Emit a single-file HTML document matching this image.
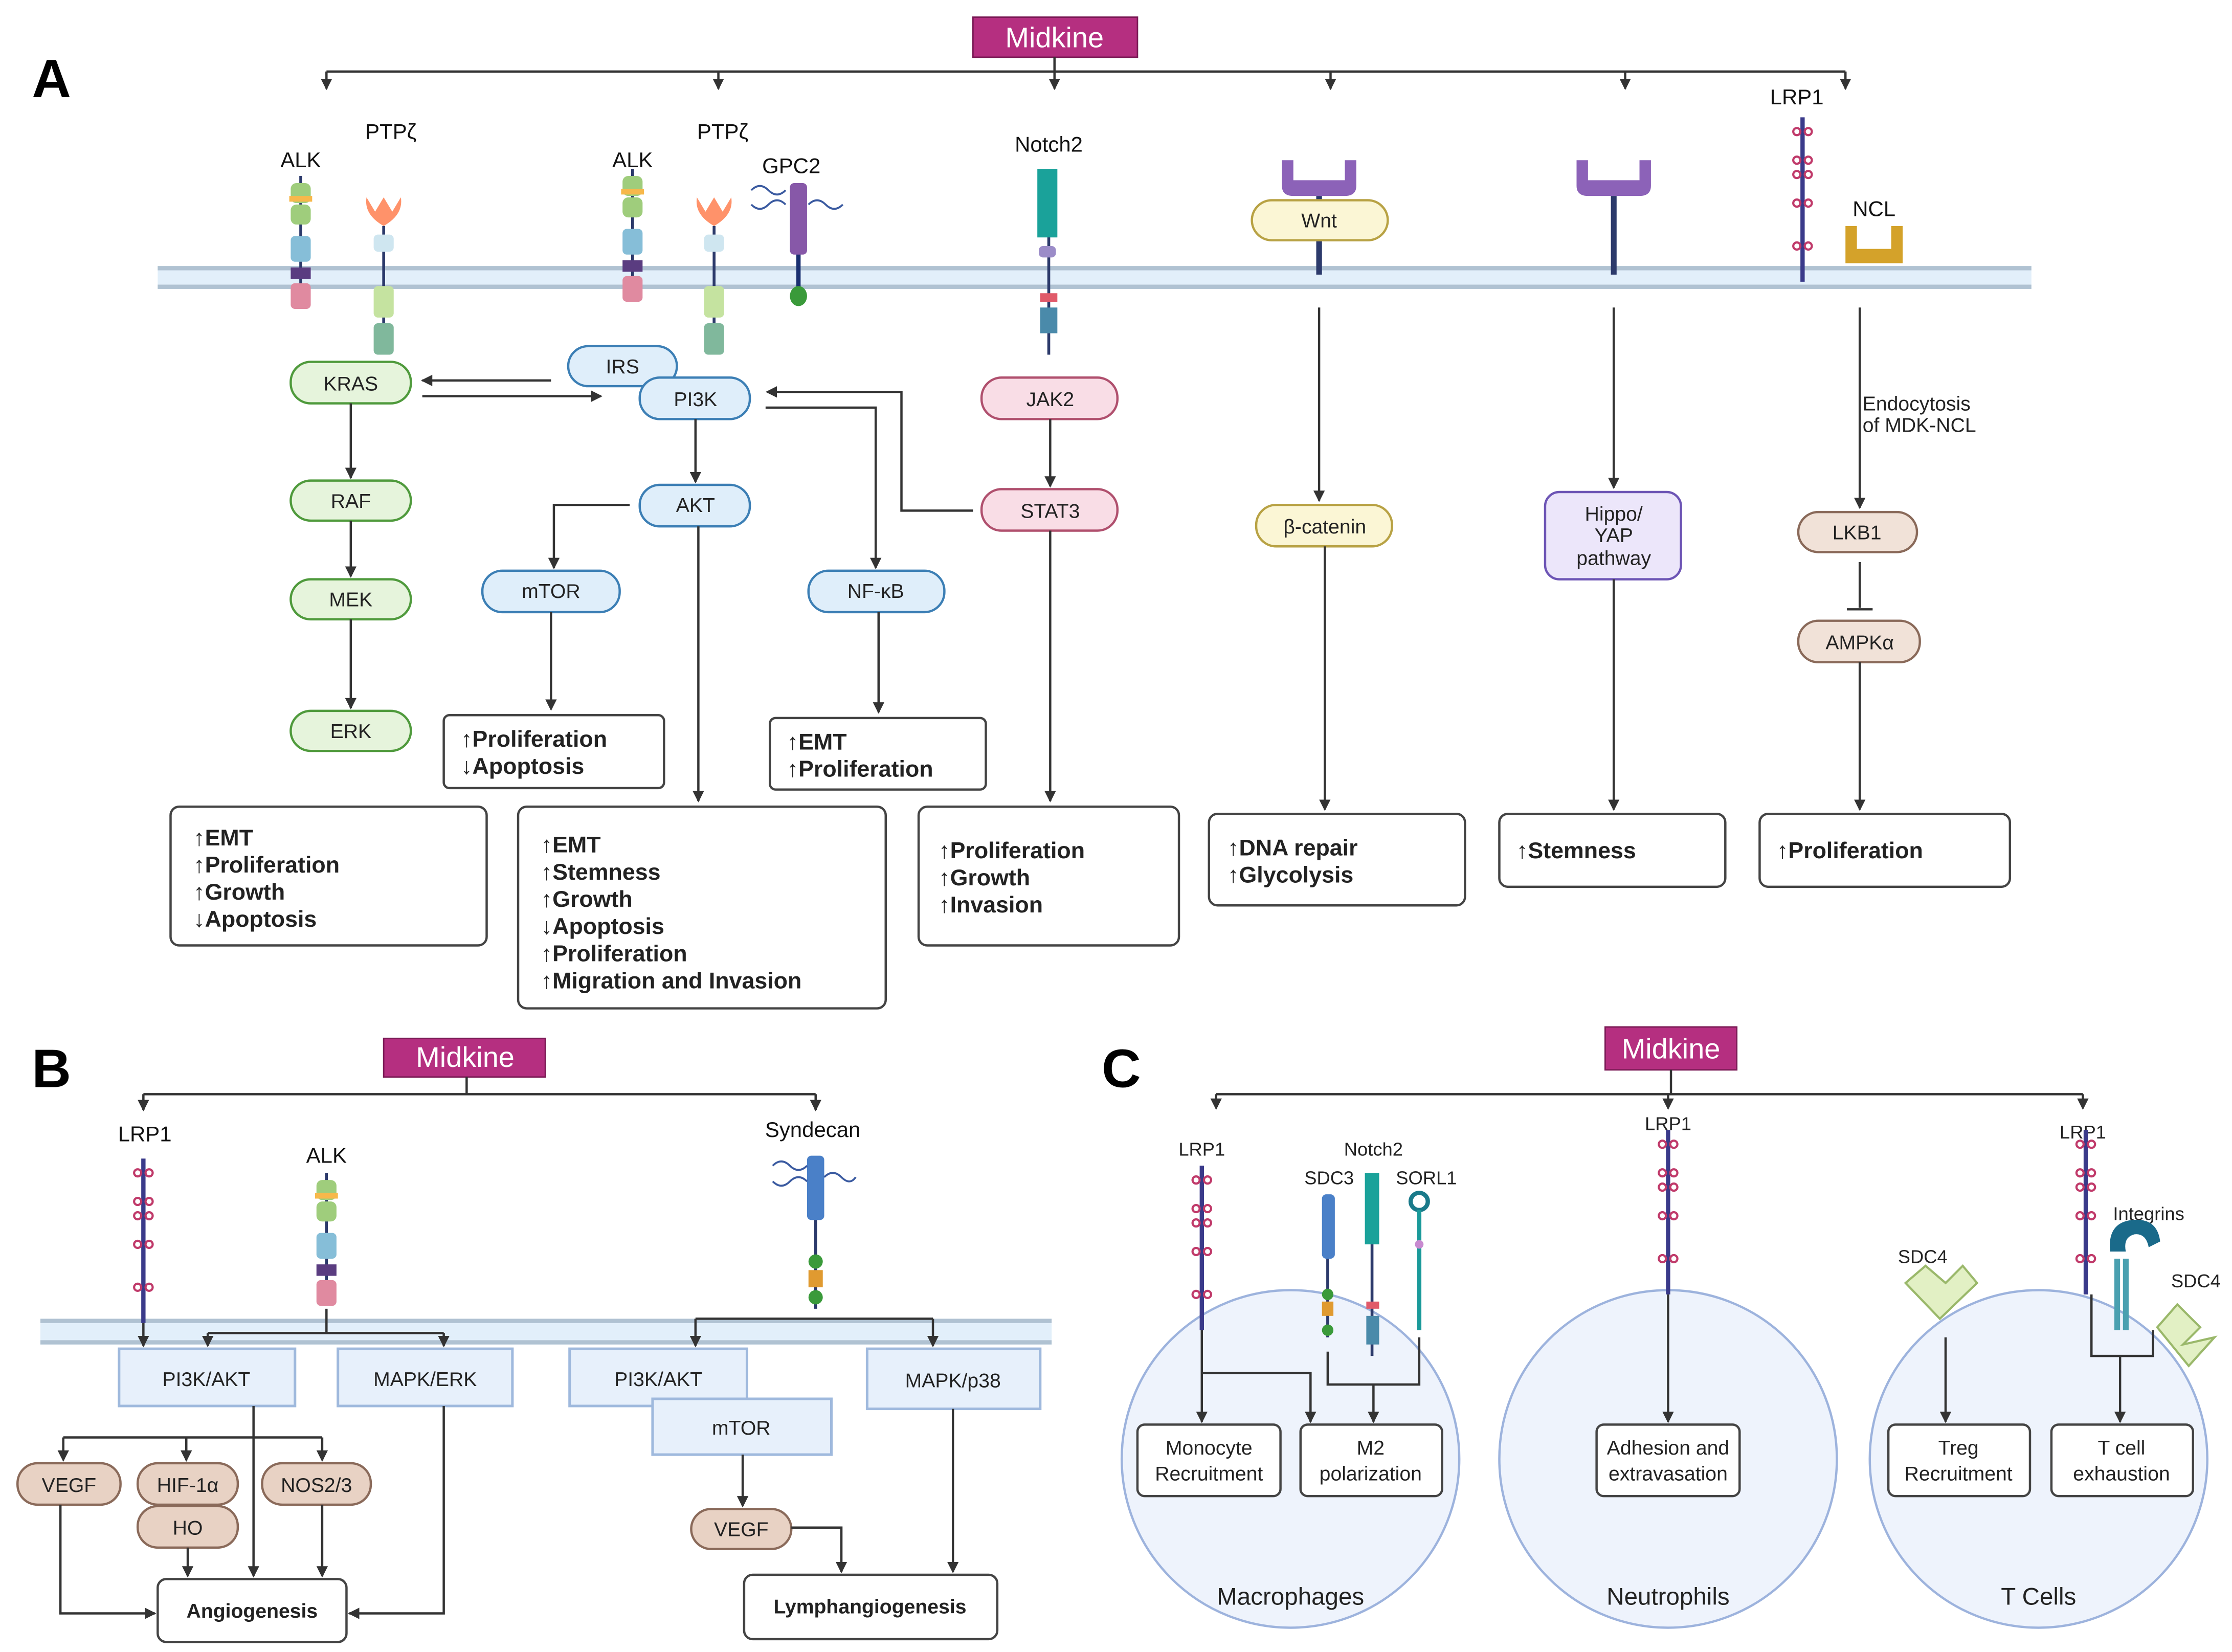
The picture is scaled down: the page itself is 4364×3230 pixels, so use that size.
<!DOCTYPE html>
<html><head><meta charset="utf-8"><style>
html,body{margin:0;padding:0;background:#fff;}
svg{display:block;}
text{font-family:"Liberation Sans",sans-serif;}
.n{font-size:14px;fill:#222;text-anchor:middle;}
.o{font-size:16px;font-weight:bold;fill:#222;}
.l{font-size:15px;fill:#111;text-anchor:middle;}
.ln{stroke:#333;stroke-width:1.6;fill:none;}
.box{fill:#fff;stroke:#444;stroke-width:1.6;}
</style></head><body>
<svg width="4364" height="3230" viewBox="0 0 1560 1155" xmlns="http://www.w3.org/2000/svg">
<defs>
<marker id="a" markerWidth="8" markerHeight="8" refX="7" refY="4" orient="auto" markerUnits="userSpaceOnUse"><path d="M0,0 L8,4 L0,8 z" fill="#333"/></marker>
<g id="alk"><line x1="0" y1="-60" x2="0" y2="30" stroke="#2c3a6b" stroke-width="2"/><rect x="-7" y="-55" width="14" height="14" rx="4" fill="#9fcd7c"/><rect x="-8" y="-46" width="16" height="4" fill="#f7b84b"/><rect x="-7" y="-40" width="14" height="14" rx="4" fill="#9fcd7c"/><rect x="-7" y="-18" width="14" height="18" rx="3" fill="#86bed8"/><rect x="-7" y="4" width="14" height="8" fill="#5a3c80"/><rect x="-7" y="15" width="14" height="18" rx="3" fill="#e08aa0"/></g>
<g id="ptp"><path d="M-12,-50 Q-14,-38 0,-30 Q14,-38 12,-50 L6,-40 L0,-50 L-6,-40 z" fill="#ff926a"/><line x1="0" y1="-30" x2="0" y2="50" stroke="#2c3a6b" stroke-width="2"/><rect x="-7" y="-24" width="14" height="12" rx="3" fill="#cfe6f0"/><rect x="-7" y="12" width="14" height="22" rx="3" fill="#c5e3a0"/><rect x="-7" y="38" width="14" height="22" rx="3" fill="#80b89c"/></g>
<g id="lrp"><line x1="0" y1="-110" x2="0" y2="5" stroke="#3a3a8a" stroke-width="3"/><g fill="none" stroke="#c03a6a" stroke-width="1.5"><circle cx="-4" cy="-100" r="2.5"/><circle cx="4" cy="-100" r="2.5"/><circle cx="-4" cy="-80" r="2.5"/><circle cx="4" cy="-80" r="2.5"/><circle cx="-4" cy="-70" r="2.5"/><circle cx="4" cy="-70" r="2.5"/><circle cx="-4" cy="-50" r="2.5"/><circle cx="4" cy="-50" r="2.5"/><circle cx="-4" cy="-20" r="2.5"/><circle cx="4" cy="-20" r="2.5"/></g></g>
<g id="wr"><path d="M-26,-80 L-26,-62 Q-26,-55 -18,-55 L18,-55 Q26,-55 26,-62 L26,-80 L18,-80 L18,-66 L-18,-66 L-18,-80 z" fill="#8c62b8"/><rect x="-2" y="-55" width="4" height="55" fill="#2c3a6b"/></g>
</defs>

<!-- ===== A ===== -->
<text x="22" y="68" font-size="38" font-weight="bold" fill="#000">A</text>
<rect x="680" y="12" width="115" height="28" fill="#b52f80" stroke="#7a1a55"/>
<text x="737" y="33" font-size="20" fill="#fff" text-anchor="middle">Midkine</text>
<line class="ln" x1="737" y1="40" x2="737" y2="50"/>
<line class="ln" x1="228" y1="50" x2="1290" y2="50"/>
<g class="ln" marker-end="url(#a)"><line x1="228" y1="50" x2="228" y2="62"/><line x1="502" y1="50" x2="502" y2="62"/><line x1="737" y1="50" x2="737" y2="62"/><line x1="930" y1="50" x2="930" y2="62"/><line x1="1136" y1="50" x2="1136" y2="62"/><line x1="1290" y1="50" x2="1290" y2="62"/></g>

<rect x="110" y="186" width="1310" height="16" fill="#e2effa"/>
<rect x="110" y="186" width="1310" height="3" fill="#b0c2d2"/><rect x="110" y="199" width="1310" height="3" fill="#b0c2d2"/>

<text class="l" x="210" y="117">ALK</text><text class="l" x="273" y="97">PTPζ</text>
<text class="l" x="442" y="117">ALK</text><text class="l" x="505" y="97">PTPζ</text>
<text class="l" x="553" y="121">GPC2</text><text class="l" x="733" y="106">Notch2</text>
<text class="l" x="1256" y="73">LRP1</text><text class="l" x="1310" y="151">NCL</text>
<use href="#alk" x="210" y="183"/><use href="#ptp" x="268" y="188"/>
<use href="#alk" x="442" y="178"/><use href="#ptp" x="499" y="188"/>
<line x1="558" y1="130" x2="558" y2="205" stroke="#1a2f70" stroke-width="3"/><rect x="552" y="128" width="12" height="50" rx="3" fill="#8758a8"/><ellipse cx="558" cy="207" rx="6" ry="7" fill="#3a9a3a"/>
<path d="M525,133 q6,-6 12,0 t12,0 M525,143 q6,6 12,0 t12,0 M565,143 q6,-6 12,0 t12,0" stroke="#3a5aa0" fill="none" stroke-width="1.3"/>
<line x1="733" y1="165" x2="733" y2="248" stroke="#2c3a6b" stroke-width="2"/><rect x="725" y="118" width="14" height="48" fill="#1aa29a"/><rect x="726" y="172" width="12" height="8" rx="3" fill="#9b8cc8"/><rect x="727" y="205" width="12" height="6" fill="#e05a6a"/><rect x="727" y="215" width="12" height="18" fill="#4a8aaa"/>
<use href="#wr" x="922" y="192"/>
<rect x="875" y="140" width="95" height="28" rx="14" fill="#fbf6d5" stroke="#b8a244" stroke-width="1.6"/><text class="n" x="922" y="159">Wnt</text>
<use href="#wr" x="1128" y="192"/>
<use href="#lrp" x="1260" y="192"/>
<path d="M1290,158 L1298,158 L1298,174 L1322,174 L1322,158 L1330,158 L1330,184 L1290,184 z" fill="#d4a22a"/>

<!-- A nodes -->
<g stroke-width="1.6">
<g fill="#e6f4dc" stroke="#4f9a3c"><rect x="203" y="253" width="84" height="29" rx="14"/><rect x="203" y="336" width="84" height="28" rx="14"/><rect x="203" y="405" width="84" height="28" rx="14"/><rect x="203" y="497" width="84" height="28" rx="14"/></g>
<g fill="#dfeefa" stroke="#3c7fb5"><rect x="397" y="242" width="76" height="28" rx="14"/><rect x="447" y="264" width="77" height="29" rx="14"/><rect x="447" y="339" width="77" height="29" rx="14"/><rect x="337" y="399" width="96" height="29" rx="14"/><rect x="565" y="399" width="95" height="29" rx="14"/></g>
<g fill="#f9dde6" stroke="#b0506e"><rect x="686" y="264" width="95" height="29" rx="14"/><rect x="686" y="342" width="95" height="29" rx="14"/></g>
<rect x="878" y="353" width="95" height="29" rx="14" fill="#fbf6d5" stroke="#b8a244"/>
<rect x="1080" y="344" width="95" height="61" rx="10" fill="#ece6fa" stroke="#6d55b5"/>
<g fill="#f1e2d8" stroke="#8a6a5a"><rect x="1257" y="358" width="83" height="28" rx="14"/><rect x="1257" y="434" width="85" height="29" rx="14"/></g>
</g>
<g class="n">
<text x="245" y="273">KRAS</text><text x="245" y="355">RAF</text><text x="245" y="424">MEK</text><text x="245" y="516">ERK</text>
<text x="435" y="261">IRS</text><text x="486" y="284">PI3K</text><text x="486" y="358">AKT</text><text x="385" y="418">mTOR</text><text x="612" y="418">NF-κB</text>
<text x="734" y="284">JAK2</text><text x="734" y="362">STAT3</text><text x="926" y="373">β-catenin</text>
<text x="1128" y="364">Hippo/</text><text x="1128" y="379">YAP</text><text x="1128" y="395">pathway</text>
<text x="1298" y="377">LKB1</text><text x="1300" y="454">AMPKα</text>
</g>
<text x="1302" y="287" font-size="14" fill="#222">Endocytosis</text><text x="1302" y="302" font-size="14" fill="#222">of MDK-NCL</text>

<g class="ln" marker-end="url(#a)">
<line x1="245" y1="282" x2="245" y2="334"/><line x1="245" y1="364" x2="245" y2="403"/><line x1="245" y1="433" x2="245" y2="495"/>
<line x1="385" y1="266" x2="295" y2="266"/><line x1="295" y1="277" x2="420" y2="277"/>
<line x1="486" y1="293" x2="486" y2="337"/>
<polyline points="440,353 387,353 387,397"/>
<line x1="385" y1="428" x2="385" y2="496"/>
<line x1="488" y1="368" x2="488" y2="560"/>
<polyline points="680,357 630,357 630,274 536,274"/>
<polyline points="535,285 612,285 612,397"/>
<line x1="614" y1="428" x2="614" y2="498"/>
<line x1="734" y1="293" x2="734" y2="340"/><line x1="734" y1="371" x2="734" y2="560"/>
<line x1="922" y1="215" x2="922" y2="350"/><line x1="926" y1="382" x2="926" y2="566"/>
<line x1="1128" y1="215" x2="1128" y2="341"/><line x1="1128" y1="405" x2="1128" y2="566"/>
<line x1="1300" y1="215" x2="1300" y2="355"/><line x1="1300" y1="463" x2="1300" y2="566"/>
</g>
<line class="ln" x1="1300" y1="393" x2="1300" y2="425"/><line class="ln" x1="1291" y1="426" x2="1309" y2="426"/>

<!-- A outcome boxes -->
<rect class="box" x="310" y="500" width="154" height="51" rx="4"/>
<text class="o" x="322" y="522">↑Proliferation</text><text class="o" x="322" y="541">↓Apoptosis</text>
<rect class="box" x="538" y="502" width="151" height="50" rx="4"/>
<text class="o" x="550" y="524">↑EMT</text><text class="o" x="550" y="543">↑Proliferation</text>
<rect class="box" x="119" y="564" width="221" height="97" rx="6"/>
<text class="o" x="135" y="591">↑EMT</text><text class="o" x="135" y="610">↑Proliferation</text><text class="o" x="135" y="629">↑Growth</text><text class="o" x="135" y="648">↓Apoptosis</text>
<rect class="box" x="362" y="564" width="257" height="141" rx="6"/>
<text class="o" x="378" y="596">↑EMT</text><text class="o" x="378" y="615">↑Stemness</text><text class="o" x="378" y="634">↑Growth</text><text class="o" x="378" y="653">↓Apoptosis</text><text class="o" x="378" y="672">↑Proliferation</text><text class="o" x="378" y="691">↑Migration and Invasion</text>
<rect class="box" x="642" y="564" width="182" height="97" rx="6"/>
<text class="o" x="656" y="600">↑Proliferation</text><text class="o" x="656" y="619">↑Growth</text><text class="o" x="656" y="638">↑Invasion</text>
<rect class="box" x="845" y="569" width="179" height="64" rx="6"/>
<text class="o" x="858" y="598">↑DNA repair</text><text class="o" x="858" y="617">↑Glycolysis</text>
<rect class="box" x="1048" y="569" width="158" height="51" rx="6"/><text class="o" x="1060" y="600">↑Stemness</text>
<rect class="box" x="1230" y="569" width="175" height="51" rx="6"/><text class="o" x="1242" y="600" font-size="17">↑Proliferation</text>

<!-- ===== B ===== -->
<text x="22" y="760" font-size="38" font-weight="bold" fill="#000">B</text>
<rect x="268" y="726" width="113" height="27" fill="#b52f80" stroke="#7a1a55"/>
<text x="325" y="746" font-size="20" fill="#fff" text-anchor="middle">Midkine</text>
<line class="ln" x1="326" y1="753" x2="326" y2="765"/><line class="ln" x1="100" y1="765" x2="570" y2="765"/>
<g class="ln" marker-end="url(#a)"><line x1="100" y1="765" x2="100" y2="776"/><line x1="570" y1="765" x2="570" y2="776"/></g>
<text class="l" x="101" y="798" font-size="14">LRP1</text><text class="l" x="228" y="813" font-size="14">ALK</text><text class="l" x="568" y="795" font-size="14">Syndecan</text>
<rect x="28" y="922" width="707" height="18" fill="#e2effa"/><rect x="28" y="922" width="707" height="3" fill="#b0c2d2"/><rect x="28" y="937" width="707" height="3" fill="#b0c2d2"/>
<use href="#lrp" x="100" y="920"/><use href="#alk" x="228" y="880"/>
<rect x="564" y="808" width="12" height="45" rx="3" fill="#4a80c8"/><line x1="570" y1="853" x2="570" y2="915" stroke="#2c3a6b" stroke-width="2"/><circle cx="570" cy="882" r="5" fill="#3a9a3a"/><rect x="565" y="888" width="10" height="12" fill="#e09a30"/><circle cx="570" cy="907" r="5" fill="#3a9a3a"/>
<path d="M540,815 q6,-6 12,0 t12,0 M540,826 q6,6 12,0 t12,0 M576,823 q6,-6 12,0 t10,0" stroke="#3a5aa0" fill="none" stroke-width="1.3"/>
<g fill="#e7f0fb" stroke="#9fb9dd" stroke-width="1.8">
<rect x="83" y="943" width="123" height="40"/><rect x="236" y="943" width="122" height="40"/><rect x="398" y="943" width="124" height="40"/><rect x="456" y="978" width="125" height="39"/><rect x="606" y="943" width="121" height="42"/></g>
<g class="n" font-size="15"><text x="144" y="969">PI3K/AKT</text><text x="297" y="969">MAPK/ERK</text><text x="460" y="969">PI3K/AKT</text><text x="518" y="1003">mTOR</text><text x="666" y="970">MAPK/p38</text></g>
<g fill="#e8d2c4" stroke="#8a6a5a" stroke-width="1.6">
<rect x="12" y="1023" width="72" height="29" rx="14"/><rect x="96" y="1023" width="70" height="29" rx="14"/><rect x="96" y="1053" width="70" height="29" rx="14"/><rect x="183" y="1023" width="76" height="29" rx="14"/><rect x="483" y="1055" width="70" height="28" rx="14"/></g>
<g class="n"><text x="48" y="1043">VEGF</text><text x="131" y="1043">HIF-1α</text><text x="131" y="1073">HO</text><text x="221" y="1043">NOS2/3</text><text x="518" y="1074">VEGF</text></g>
<rect class="box" x="110" y="1104" width="132" height="44" rx="6"/><text class="n" x="176" y="1131" font-weight="bold">Angiogenesis</text>
<rect class="box" x="520" y="1101" width="177" height="45" rx="6"/><text class="n" x="608" y="1128" font-weight="bold">Lymphangiogenesis</text>
<g class="ln" marker-end="url(#a)">
<line x1="100" y1="925" x2="100" y2="941"/>
<line x1="145" y1="932" x2="145" y2="941"/><line x1="310" y1="932" x2="310" y2="941"/>
<line x1="486" y1="922" x2="486" y2="941"/><line x1="652" y1="922" x2="652" y2="941"/>
<line x1="44" y1="1005" x2="44" y2="1021"/><line x1="130" y1="1005" x2="130" y2="1021"/><line x1="225" y1="1005" x2="225" y2="1021"/>
<line x1="177" y1="983" x2="177" y2="1102"/>
<polyline points="42,1052 42,1128 108,1128"/>
<line x1="131" y1="1082" x2="131" y2="1102"/><line x1="225" y1="1052" x2="225" y2="1102"/>
<polyline points="310,983 310,1128 244,1128"/>
<line x1="519" y1="1017" x2="519" y2="1053"/>
<polyline points="553,1068 588,1068 588,1099"/>
<line x1="666" y1="985" x2="666" y2="1099"/>
</g>
<line class="ln" x1="145" y1="932" x2="310" y2="932"/><line class="ln" x1="228" y1="915" x2="228" y2="932"/>
<line class="ln" x1="486" y1="922" x2="652" y2="922"/>
<line class="ln" x1="44" y1="1005" x2="225" y2="1005"/>

<!-- ===== C ===== -->
<text x="770" y="760" font-size="38" font-weight="bold" fill="#000">C</text>
<rect x="1122" y="718" width="92" height="30" fill="#b52f80" stroke="#7a1a55"/>
<text x="1168" y="740" font-size="20" fill="#fff" text-anchor="middle">Midkine</text>
<line class="ln" x1="1168" y1="748" x2="1168" y2="765"/><line class="ln" x1="850" y1="765" x2="1456" y2="765"/>
<g class="ln" marker-end="url(#a)"><line x1="850" y1="765" x2="850" y2="775"/><line x1="1166" y1="765" x2="1166" y2="775"/><line x1="1456" y1="765" x2="1456" y2="775"/></g>
<g fill="#eef3fc" stroke="#9db3dd" stroke-width="1.6"><circle cx="902" cy="1020" r="118"/><circle cx="1166" cy="1020" r="118"/><circle cx="1425" cy="1020" r="118"/></g>
<g font-size="17" fill="#222" text-anchor="middle"><text x="902" y="1122">Macrophages</text><text x="1166" y="1122">Neutrophils</text><text x="1425" y="1122">T Cells</text></g>
<g font-size="13" fill="#222" text-anchor="middle"><text x="840" y="808">LRP1</text><text x="960" y="808">Notch2</text><text x="929" y="828">SDC3</text><text x="997" y="828">SORL1</text><text x="1166" y="790">LRP1</text><text x="1456" y="796">LRP1</text><text x="1502" y="853">Integrins</text><text x="1344" y="883">SDC4</text><text x="1535" y="900">SDC4</text></g>
<use href="#lrp" x="840" y="925" transform="translate(0,0)"/>
<use href="#lrp" x="1166" y="900"/><use href="#lrp" x="1458" y="900"/>
<rect x="924" y="835" width="9" height="45" rx="3" fill="#4a80c8"/><line x1="928" y1="880" x2="928" y2="935" stroke="#2c3a6b" stroke-width="2"/><circle cx="928" cy="905" r="4" fill="#3a9a3a"/><rect x="924" y="910" width="8" height="10" fill="#e09a30"/><circle cx="928" cy="930" r="4" fill="#3a9a3a"/>
<rect x="954" y="820" width="10" height="50" fill="#1aa29a"/><line x1="959" y1="870" x2="959" y2="948" stroke="#2c3a6b" stroke-width="2"/><rect x="955" y="910" width="9" height="5" fill="#e05a6a"/><rect x="955" y="920" width="9" height="20" fill="#4a8aaa"/>
<circle cx="992" cy="840" r="6" fill="none" stroke="#1a7a8a" stroke-width="3"/><line x1="992" y1="846" x2="992" y2="930" stroke="#1a9a9a" stroke-width="3"/><circle cx="992" cy="870" r="3" fill="#c88ad0"/>
<path d="M1475,875 q-2,-20 15,-22 q18,-2 20,15 l-8,4 q-2,-10 -10,-9 q-8,2 -6,12 z" fill="#1a6a8a"/><rect x="1478" y="880" width="4" height="50" fill="#4aa0b0"/><rect x="1484" y="880" width="4" height="50" fill="#4aa0b0"/>
<path d="M1332,897 L1346,885 L1360,897 L1372,885 L1382,897 L1356,922 z" fill="#e2f0c4" stroke="#9ab86a" stroke-width="1.5"/>
<path d="M1508,928 L1522,912 L1538,928 L1526,940 L1548,935 L1530,955 z" fill="#e2f0c4" stroke="#9ab86a" stroke-width="1.5"/>
<g class="box" stroke-width="1.5"><rect x="795" y="996" width="100" height="50" rx="5"/><rect x="909" y="996" width="99" height="50" rx="5"/><rect x="1116" y="996" width="100" height="50" rx="5"/><rect x="1320" y="996" width="99" height="50" rx="5"/><rect x="1434" y="996" width="99" height="50" rx="5"/></g>
<g class="n" font-size="13"><text x="845" y="1017">Monocyte</text><text x="845" y="1035">Recruitment</text><text x="958" y="1017">M2</text><text x="958" y="1035">polarization</text><text x="1166" y="1017">Adhesion and</text><text x="1166" y="1035">extravasation</text><text x="1369" y="1017">Treg</text><text x="1369" y="1035">Recruitment</text><text x="1483" y="1017">T cell</text><text x="1483" y="1035">exhaustion</text></g>
<g class="ln" marker-end="url(#a)">
<line x1="840" y1="930" x2="840" y2="994"/><polyline points="840,960 916,960 916,994"/>
<line x1="960" y1="968" x2="960" y2="994"/>
<line x1="1166" y1="905" x2="1166" y2="994"/>
<line x1="1360" y1="935" x2="1360" y2="994"/>
<line x1="1482" y1="948" x2="1482" y2="994"/>
</g>
<polyline class="ln" points="928,945 928,968 992,968 992,935"/>
<polyline class="ln" points="1462,905 1462,948 1505,948 1505,930"/>
</svg>
</body></html>
